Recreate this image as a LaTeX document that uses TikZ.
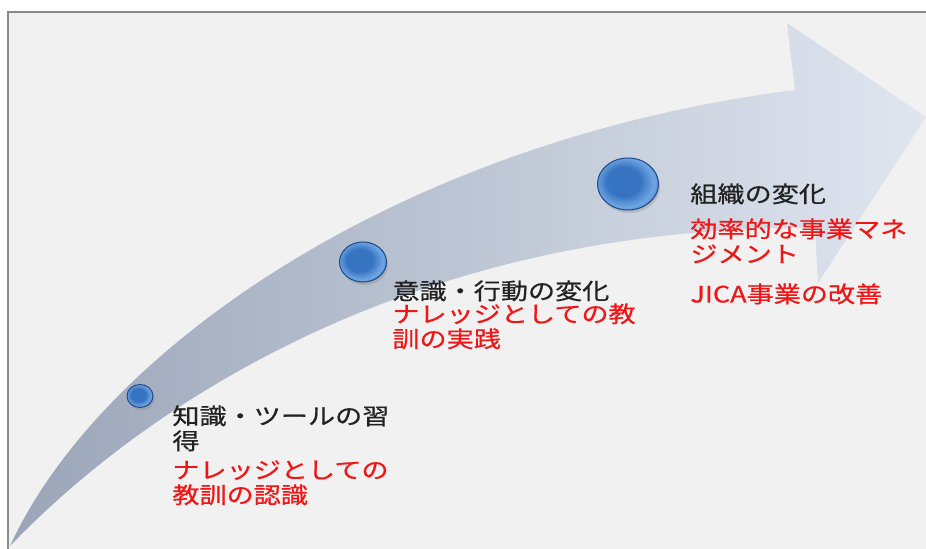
\documentclass[tikz,border=0pt]{standalone}
\usepackage{fontspec}
\newfontfamily\jp[FakeStretch=1.2, FakeBold=0.6]{Noto Sans CJK JP}
\usetikzlibrary{shapes.geometric, shadows}
\definecolor{framegray}{RGB}{138,138,138}
\definecolor{panel}{RGB}{241,241,241}
\definecolor{tailblue}{RGB}{154,165,184}
\definecolor{midblue}{RGB}{200,208,222}
\definecolor{headblue}{RGB}{224,230,240}
\definecolor{beadlight}{RGB}{112,166,226}
\definecolor{beadmid}{RGB}{54,116,194}
\definecolor{beaddark}{RGB}{28,72,136}
\definecolor{inkgray}{RGB}{34,34,34}
\definecolor{inkred}{RGB}{238,22,22}
\pgfdeclareradialshading{beadshade}{\pgfpoint{-5bp}{3bp}}{%
  color(0bp)=(beadmid); color(14bp)=(beadmid); color(24bp)=(beadlight);
  color(31bp)=(beadmid); color(42bp)=(beadmid!70!beaddark); color(50bp)=(beaddark)}

\begin{document}
\begin{tikzpicture}[x=0.5pt, y=-0.5pt,
  bead/.style = {ellipse, inner sep=0pt, draw=beaddark, line width=0.5pt, shading=beadshade,
    drop shadow={opacity=0.3, shadow xshift=0.8pt, shadow yshift=-1.5pt}},
  lbl/.style = {anchor=north west, inner sep=0pt, align=left,
    font=\jp\fontsize{11.3}{12.5}\selectfont, text=inkgray},
  note/.style = {lbl, text=inkred}]
  \useasboundingbox (0,0) rectangle (926,549);
  \fill[panel] (8,12) rectangle (926,549);
  \draw[framegray, line width=0.75pt] (926,12) -- (8,12) -- (8,549);
  \shade[left color=tailblue, middle color=midblue, right color=headblue]
    (10,546) .. controls (100,350) and (400,140) .. (795,90)
    -- (787,23) -- (926,117) -- (818,283) -- (815,228)
    .. controls (420,225) and (150,400) .. (10,546) -- cycle;
  \node[bead, minimum width=13pt, minimum height=11.5pt] (1) at (140,396) {};
  \node[bead, minimum width=23.5pt, minimum height=20pt] (2) at (363,262) {};
  \node[bead, minimum width=30.5pt, minimum height=26pt] (3) at (628,184) {};
  \node[lbl] (t1) at (172,405) {知識・ツールの習\\得};
  \node[note] (r1) at (172,460) {ナレッジとしての\\教訓の認識};
  \node[lbl] (t2) at (392,280) {意識・行動の変化};
  \node[note] (r2) at (392,303) {ナレッジとしての教\\訓の実践};
  \node[lbl] (t3) at (690,183) {組織の変化};
  \node[note] (r3) at (690,218) {効率的な事業マネ\\ジメント\\[7.5pt]JICA事業の改善};
\end{tikzpicture}
\end{document}
